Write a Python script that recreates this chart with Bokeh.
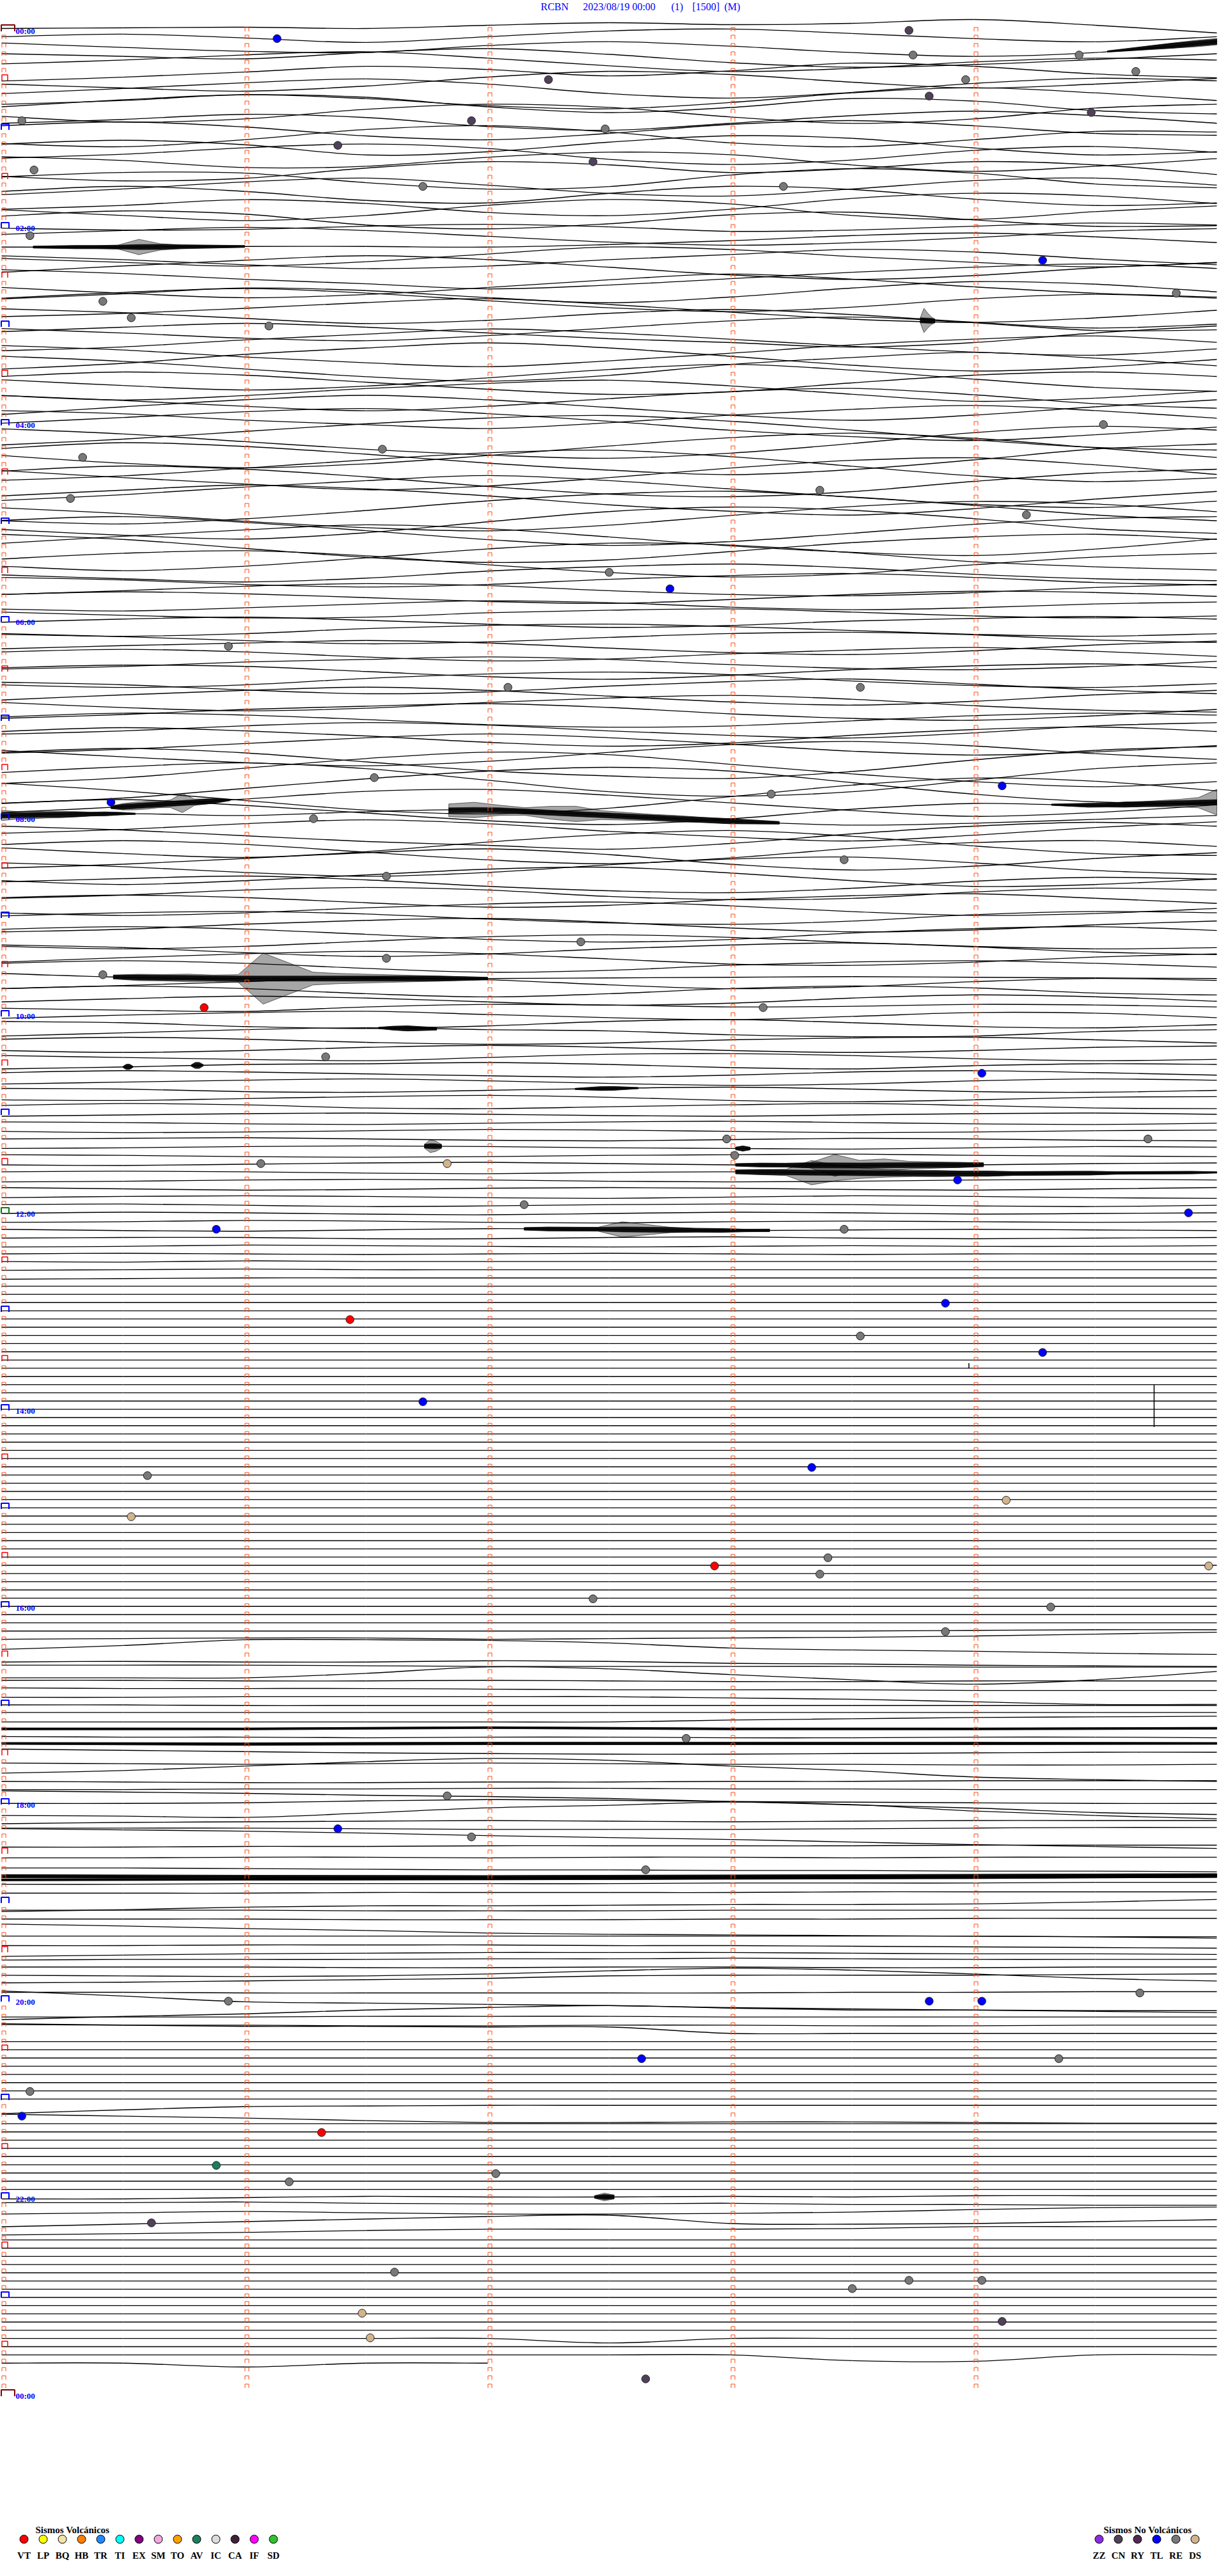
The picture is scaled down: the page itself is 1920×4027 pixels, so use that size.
from bokeh.plotting import figure
from bokeh.models import Range1d
from bokeh.core.properties import value
from bokeh.embed import file_html
from bokeh.resources import INLINE
import numpy as np

# ---------------- header / labels ----------------
station = "RCBN"
start_label = "2023/08/19 00:00"
run_label = "(1)"
scale_label = "[1500]"
comp_label = "(M)"
hour_labels = ["00:00", "02:00", "04:00", "06:00", "08:00", "10:00", "12:00",
               "14:00", "16:00", "18:00", "20:00", "22:00", "00:00"]
minutes_per_line = 5
n_lines = 288
data_end_min = 23 * 60 + 42          # record ends 23:42
minute_ticks = [0, 1, 2, 3, 4]
sample_min = [0, 0.5, 1, 1.5, 2, 2.5, 3, 3.5, 4, 4.5, 5]

# ---------------- trace offsets (counts, + = up) at sample_min, 12 lines per hour ----
F2 = [2, 2, 2, 2, 2, 2, 2, 2, 2, 2, 2]
F0 = [0, 0, 0, 0, 0, 0, 0, 0, 0, 0, 0]
h00 = [[4, 5, 6, 4, 9, 13, 10, 12, 18, 9, -3], [4, 8, 2, -5, 4, 13, 16, 9, 1, -4, 4],
       [7, 0, -6, -8, 3, 9, 2, -8, -14, -8, 9], [3, -1, -5, 5, 11, 2, -11, -18, -14, -6, 3],
       [0, 6, 14, 19, 9, -3, -12, -7, 3, 9, 6], [-14, -8, 0, 9, 4, -6, 2, 14, 9, -3, -9],
       [-6, -12, -17, -9, 5, 14, 9, -3, -12, -6, 3], [-8, 0, 9, 15, 7, -8, -15, -6, 8, 16, 12],
       [-12, -6, 3, -3, -14, -19, -9, 6, 14, 6, -6], [-3, 8, 16, 12, -3, -12, -4, 10, 6, -9, -14],
       [-5, -14, -9, 6, 14, 9, -6, -16, -9, 8, 14], [-3, 3, 11, 6, -8, -14, -3, 9, 16, 9, -3]]
h01 = [[6, 12, 4, -10, -16, -6, 8, 14, 6, -6, -9], [-9, -14, -3, 13, 19, 9, -8, -14, -3, 10, 9],
       [3, 9, 2, -14, -9, 6, 16, 12, -3, -14, -9], [-6, 0, 10, 16, 9, -8, -16, -9, 6, 12, 3],
       [9, 3, -8, -6, 8, 16, 12, -4, -14, -6, 6], [-9, -16, -12, 4, 14, 9, -3, 3, 14, 9, -6],
       [3, 10, 9, -6, -16, -12, 6, 16, 9, -8, -14], [-12, -3, 8, 14, 3, -10, -14, -3, 10, 14, 3],
       [6, 14, 6, -8, -12, 3, 14, 9, -6, -16, -12], [-9, -3, 6, 0, -14, -19, -9, 8, 16, 12, 0],
       [3, -6, -14, -6, 10, 19, 12, -6, -12, 0, 9], [6, 14, 9, -8, -14, -6, 8, 12, 0, -10, -9]]
h02 = [[0, -3, -2, 3, 6, 2, -5, -3, 3, 8, 5], [3, 9, 14, 9, 0, -9, -14, -10, -2, 8, 12],
       [-4, -4, -3, -3, -4, 0, 6, 14, 18, 12, 3], [-9, -15, -21, -14, -2, 9, 5, -6, -15, -22, -15],
       [8, 2, -6, -12, -8, 2, 10, 18, 14, 3, -6], [-5, 5, 14, 21, 15, 3, -9, -16, -10, 2, 10],
       [12, 6, -3, -10, -18, -12, -2, 8, 16, 21, 14], [-3, -12, -19, -14, -3, 9, 18, 10, -2, -12, -18],
       [-8, 0, 9, 5, -6, -14, -5, 9, 19, 15, 3], [6, 15, 21, 14, 2, -9, -15, -8, 5, 12, 6],
       [-10, -5, 3, 12, 18, 9, -3, -14, -19, -12, 0], [15, 9, 0, -8, -3, 8, 14, 6, -6, -15, -9]]
h03 = [[-3, -10, -18, -22, -14, -2, 9, 15, 6, -6, -5], [5, 12, 18, 12, 3, -6, -12, -19, -12, 3, 14],
       [-12, -6, 5, 14, 22, 16, 6, -5, -14, -19, -9], [9, 2, -9, -18, -24, -15, -3, 10, 19, 24, 14],
       [-15, -6, 8, 18, 26, 18, 5, -9, -18, -12, 0], [18, 10, -2, -14, -21, -12, 5, 16, 24, 15, 3],
       [-6, -15, -22, -16, -3, 10, 18, 9, -5, -18, -24], [12, 19, 14, 3, -8, -16, -12, 2, 14, 19, 12],
       [-5, -12, -5, 6, 14, 19, 10, -3, -14, -9, 2], [8, 0, -9, -16, -9, 3, 14, 19, 9, -5, -12],
       [-9, 3, 14, 21, 14, 2, -10, -18, -10, 3, 14], [10, 5, -5, -12, -18, -9, 3, 12, 18, 10, -2]]
h04 = [[3, 12, 21, 26, 18, 6, -8, -18, -24, -15, -3], [-18, -9, 3, 15, 24, 28, 19, 5, -10, -22, -26],
       [20, 12, 0, -12, -21, -26, -18, -3, 14, 24, 18], [-9, -21, -28, -22, -9, 6, 19, 26, 18, 3, -12],
       [15, 24, 18, 6, -8, -19, -26, -18, -3, 14, 22], [-22, -15, -3, 10, 21, 25, 15, 0, -15, -24, -18],
       [6, -5, -15, -24, -18, -5, 10, 22, 26, 15, 0], [18, 26, 21, 9, -6, -18, -22, -14, 2, 15, 21],
       [-15, -6, 6, 16, 24, 16, 3, -10, -21, -26, -16], [5, 14, 22, 16, 5, -9, -19, -25, -15, 0, 12],
       [-21, -26, -18, -5, 10, 21, 25, 16, 3, -12, -21], [12, 3, -9, -19, -24, -15, 0, 14, 22, 18, 6]]
h05 = [[-9, -18, -24, -14, 3, 19, 26, 21, 8, -8, -15], [18, 24, 15, 2, -12, -21, -15, -2, 12, 21, 24],
       [-5, 6, 16, 24, 18, 5, -9, -19, -24, -14, 2], [22, 14, 0, -14, -22, -18, -5, 9, 18, 22, 14],
       [-15, -22, -15, -2, 12, 21, 18, 6, -8, -16, -21], [9, 18, 22, 14, 0, -12, -19, -14, 0, 12, 18],
       [-3, -9, -14, -8, 3, 10, 14, 8, -2, -9, -12], [6, 2, -5, -9, -5, 3, 9, 12, 6, -2, -6],
       [-8, -2, 5, 9, 6, -2, -8, -10, -5, 3, 8], [5, 9, 6, 0, -6, -9, -3, 5, 10, 8, 2],
       [-5, -8, -3, 3, 8, 5, -2, -6, -3, 3, 6], [3, -2, -6, -5, 2, 6, 8, 3, -3, -6, -3]]
h06 = [[0, 5, 8, 3, -3, -8, -5, 2, 6, 9, 5], [-6, -9, -5, 3, 8, 10, 6, 0, -6, -9, -5],
       [8, 3, -3, -8, -5, 2, 8, 10, 6, -2, -6], [-3, 2, 6, 10, 6, -2, -9, -12, -6, 3, 9],
       [5, 9, 5, -3, -9, -6, 2, 8, 12, 6, -2], [-9, -5, 2, 6, 10, 6, -2, -8, -10, -5, 3],
       [6, 10, 8, 0, -8, -12, -6, 3, 9, 12, 6], [-8, -12, -8, 2, 9, 12, 8, -2, -9, -12, -6],
       [9, 5, -3, -9, -6, 3, 10, 14, 6, -3, -9], [-6, 2, 9, 14, 9, 0, -9, -14, -8, 2, 9],
       [3, -5, -10, -6, 3, 10, 14, 8, -2, -9, -12], [-9, -3, 5, 10, 14, 8, -2, -9, -12, -5, 5]]
h07 = [[6, 12, 9, 2, -6, -10, -8, 0, 8, 12, 9], [-8, -3, 5, 10, 6, -3, -10, -14, -6, 5, 10],
       [9, 15, 10, 2, -8, -14, -9, 3, 12, 16, 9], [-12, -6, 3, 12, 18, 12, 2, -9, -15, -10, 0],
       [5, -5, -14, -19, -12, 2, 14, 19, 12, 0, -9], [15, 21, 14, 0, -14, -22, -26, -15, 3, 18, 24],
       [-21, -12, 3, 18, 28, 24, 9, -6, -18, -26, -18], [9, 18, 24, 15, -3, -21, -28, -21, -3, 15, 24],
       [-26, -18, -3, 12, 24, 30, 24, 6, -12, -24, -28], [18, 6, -9, -24, -30, -21, -3, 15, 26, 21, 6],
       [-15, -6, 6, 18, 21, 12, 0, -12, -21, -15, -3], [12, 18, 9, -3, -15, -21, -12, 3, 12, 9, 14]]
h08 = [[6, 9, 6, 12, 15, 6, -3, -9, -6, 0, 6], [-9, -3, 6, 12, 6, -6, -15, -21, -12, 0, 9],
       [15, 9, 0, -9, -15, -21, -12, 3, 15, 21, 15], [-6, -15, -21, -12, 3, 15, 21, 12, -3, -15, -18],
       [12, 18, 12, 0, -12, -18, -9, 6, 15, 18, 9], [-12, -6, 3, 12, 18, 9, -6, -15, -9, 3, 12],
       [9, 3, -6, -12, -6, 6, 15, 18, 9, -3, -9], [-6, -12, -6, 3, 12, 15, 6, -6, -15, -12, -3],
       [5, 10, 14, 8, -2, -9, -12, -5, 6, 12, 9], [-8, -3, 5, 9, 5, -5, -10, -8, 2, 8, 5],
       [6, 10, 6, -2, -9, -6, 3, 9, 12, 5, -3], [-5, -9, -5, 3, 9, 12, 6, -3, -9, -6, 2]]
h09 = [[3, 8, 10, 6, -2, -8, -10, -5, 5, 10, 8], [-9, -5, 3, 9, 12, 6, -3, -9, -6, 2, 8],
       [8, 12, 8, 0, -8, -12, -8, 2, 9, 12, 6], [-6, -10, -6, 2, 9, 12, 8, 0, -6, -10, -8],
       [9, 5, -3, -9, -5, 3, 9, 12, 6, -2, -6], [-5, 2, 8, 12, 8, 0, -8, -10, -5, 3, 8],
       [6, 10, 6, -2, -8, -5, 3, 8, 10, 6, 0], [3, -3, -5, -5, -5, -4, -3, -2, -3, -4, -5],
       [-8, -3, 3, 9, 6, -2, -8, -5, 3, 8, 5], [5, 9, 5, -3, -8, -3, 5, 9, 6, -2, -5],
       [-3, 2, 6, 3, -3, -8, -5, 3, 8, 5, -2], [0, -3, -5, 2, 6, 5, 2, 3, 6, 5, 2]]
h10 = [[-3, 2, 6, 8, 3, -2, -5, 0, 6, 5, -2], [5, 3, -3, -6, -2, 5, 8, 3, -3, -5, 0],
       [-5, 0, 5, 8, 5, 3, -3, -6, -5, 2, 5], [3, 6, 3, -2, -5, -3, 2, 5, 6, 2, -3],
       [-2, -5, -2, 3, 6, 3, -2, -5, -2, 3, 5], [3, 0, -3, -5, 0, 5, 6, 3, -2, -5, -3],
       [-5, -2, 2, 3, 5, 2, -3, -5, 0, 3, 2], [2, 5, 3, 0, -3, -5, -2, 3, 5, 2, -2],
       [-3, 0, 3, 5, 2, -2, -5, -3, 2, 5, 3], [3, 2, -2, -3, 0, 3, 5, 2, -2, -3, 0],
       [-2, -3, 0, 3, 5, 2, -3, -5, -2, 2, 3], [2, 5, 3, -2, -3, 0, 3, 5, 2, -2, -3]]
h11 = [[-2, 0, 2, 3, 1, -1, -2, 0, 2, 3, 1], [2, 1, -1, -2, 0, 2, 3, 1, -1, -2, 0],
       [0, -2, -1, 1, 3, 2, 0, -2, -1, 1, 2], [1, 2, 3, 1, -1, -2, 0, 2, 1, -1, -2],
       [-1, 0, 2, 3, 2, 0, -1, -2, 0, 2, 1], [2, 1, -1, -2, -1, 1, 2, 3, 1, 0, -1],
       [-1, -2, 0, 2, 3, 1, -1, -2, -1, 1, 2], [1, 2, 1, -1, -2, 0, 1, -1, -2, -1, 0],
       [-2, -1, 1, 2, 1, -1, -2, -1, 1, 2, 1], [2, 0, -2, -1, 1, 2, 1, -1, -2, 0, 2],
       [-1, 1, 2, 1, -1, -2, 0, 2, 1, -1, -2], [1, 2, 0, -2, -1, 1, 2, 1, -1, -2, 0]]
h12 = [[0, 2, 1, -1, -2, 0, 2, 1, -1, 0, 1], [-1, 0, 2, 1, -1, -2, 0, 1, 0, -1, 0],
       [1, -1, -2, 0, 2, 1, -1, 0, 1, 0, -1], [0, 1, 1, -1, -1, 1, 2, 0, -1, 0, 1],
       [-1, 0, 2, 1, 0, -1, 0, 1, 0, 0, 1], [1, 2, 1, 0, 1, 2, 1, 0, 1, 1, 1],
       [2, 1, 3, 2, 2, 2, 2, 2, 2, 2, 2], [1, 2, 3, 2, 2, 2, 2, 2, 2, 2, 2],
       [0, 1, 2, 2, 2, 2, 2, 2, 2, 2, 2], F2, F2, F2]
h13 = [F2] * 12
h14 = [F2] * 12
h15 = [F2] * 12
h16 = [F2, F2, F2, [2, 2, 2, 2, 2, 2, 2, 2, 3, 4, 4], [2, 3, 4, 4, 2, 3, 4, 5, 7, 10, 13],
       [-1, 5, 14, 14, 13, 9, 1, -2, -4, -7, -9], [-8, -7, -8, -8, -6, -7, -10, -11, -13, -14, -15],
       [0, 0, 0, -1, -2, -2, -2, -2, -3, -3, -3], [-7, -7, -7, 0, 10, 7, -2, -10, -17, -10, 3],
       [2, 2, 1, 1, 2, 1, 0, 0, 1, 1, 1], [3, 2, 2, 2, 1, 0, 0, 0, -1, -1, -1],
       [1, 1, 2, 2, 2, 2, 0, -2, -6, -10, -10]]
h17 = [[2, 2, 1, 1, 1, 1, 1, 1, 1, 1, 1], [3, 3, 3, 3, 3, 3, 3, 3, 3, 3, 3],
       [1, 1, 1, 1, 1, 1, 4, 6, 8, 9, 10], [3, 4, 3, 4, 5, 4, 3, 4, 3, 4, 4],
       [4, 3, 3, 2, 3, 3, 2, 2, 3, 3, 2], [6, 6, 5, 6, 6, 5, 6, 5, 6, 6, 6],
       [10, 8, 6, 4, 3, 2, 2, 3, 4, 5, 5], [1, 0, -1, 0, 1, 0, -1, -1, -2, -2, -1],
       [-2, 2, 9, 16, 21, 18, 9, 2, -8, -12, -15], [-2, -3, -4, -4, -3, -3, -2, -2, -1, -1, -1],
       [-2, -2, -1, -1, 0, 0, -1, -1, -2, -2, -2], [9, 7, 5, 2, 0, -3, -8, -13, -18, -25, -28]]
h18 = [[2, 2, 3, 6, 8, 7, 5, 4, 3, 2, 2], [-4, -5, -7, 0, 8, 12, 17, 13, 3, -4, -9],
       [-4, -2, -1, 0, 1, 0, -1, 0, 1, 1, 1], [2, 2, 2, 1, 0, 0, 0, 1, 2, 3, 3],
       [14, 12, 10, 7, 3, 0, -3, -7, -11, -14, -17], [-2, -2, -1, -1, 0, 0, 0, 0, 1, 1, 1],
       [-6, -6, -5, -5, -6, -5, -5, -6, -5, -5, -5], [-9, -9, -10, -11, -12, -12, -13, -13, -14, -14, -15],
       [-9, -10, -10, -11, -11, -10, -10, -9, -9, -8, -8], [-2, -2, -1, -1, 0, 0, 1, 1, 2, 3, 4],
       [4, 4, 5, 5, 5, 5, 6, 6, 6, 7, 7], [3, 3, 3, 4, 4, 4, 4, 5, 5, 5, 5]]
h19 = [[-13, -10, -6, -4, -4, -3, -2, -2, -1, 2, 6], [2, 2, 2, 1, 1, 1, 2, 2, 2, 2, 2],
       [1, 1, 1, 0, 0, 0, 1, 1, 2, 2, 2], [6, 3, -1, -4, -8, -10, -11, -12, -13, -14, -16],
       [0, 0, 0, 0, 0, 0, 0, 0, 0, -1, -1], [-2, -2, -1, -1, -1, -2, -2, -3, -4, -5, -6],
       [-6, -4, -2, -1, 0, 0, 0, -1, -2, -2, -3], [1, 2, 2, 2, 3, 3, 4, 3, 2, 2, 2],
       [3, 3, 3, 2, 2, 3, 3, 2, 2, 3, 3], [3, 2, 1, 2, 5, 10, 14, 11, 5, -2, -6],
       [4, 5, 7, 9, 11, 15, 16, 16, 16, 17, 18], [2, 2, 1, 1, 1, 1, 1, 2, 2, 3, 3]]
h20 = [[17, 9, 0, -2, -4, -6, -9, -11, -13, -15, -17], [-15, -10, -6, 0, 4, 7, 3, 0, 0, -1, -1],
       [2, 2, 2, 3, 3, 3, 2, 2, 2, 2, 2], [3, 2, 2, 1, 1, 2, 2, 1, 1, 2, 2],
       [17, 15, 13, 13, 12, 12, 2, 2, 2, 2, 2], F2, F2, F2, F2, F2, F2, F2]
h21 = [F2, [-8, -2, 3, 4, 5, 5, 5, 5, 5, 5, 5], [4, 1, -2, -6, -9, -9, -8, -8, -9, -10, -10],
       F2, F2, F2, F2, F2, F2, F2, F2, F2]
h22 = [[0, 0, 2, 4, 3, 3, 4, 3, 5, 5, 5], [7, 7, 8, 6, 5, 5, 6, 4, 4, 3, 3],
       [2, 4, 6, 4, 2, 2, 3, 5, 9, 12, 13], [-5, -1, 3, 7, 11, 13, 0, -1, 0, 3, 6],
       [-5, -3, -1, 2, 4, 4, 4, 5, 8, 8, 8], F0, F0, F0, F0, F0, F0, F0]
h23 = [F0, F0, F0, F0, F0, [0, 0, 0, 0, 0, -7, 0, 0, 0, 0, 0], F0,
       [0, 0, 0, 0, 0, 0, 0, -9, -10, 0, 0], [0, 0, -6, 0, 0, 0, 0, 0, 0, 0, 0], F0, F0, F0]
hours = [h00, h01, h02, h03, h04, h05, h06, h07, h08, h09, h10, h11,
         h12, h13, h14, h15, h16, h17, h18, h19, h20, h21, h22, h23]

# ---------------- bursts / noisy stretches (line, t0, t1, envelope counts) ----------------
burst_line = [2, 26, 36, 94, 95, 96, 96, 115, 122, 126, 126, 129, 136, 136, 138, 139, 146, 264,
              207, 209, 224, 225]
burst_t0 = [4.55, 0.13, 3.78, 0.45, 4.32, 0.0, 1.84, 0.46, 1.55, 0.50, 0.78, 2.36, 1.74, 3.02, 3.02, 3.02,
            2.15, 2.44, 0.0, 0.0, 0.0, 0.0]
burst_t1 = [5.0, 1.0, 3.84, 0.94, 5.0, 0.55, 3.2, 2.0, 1.79, 0.54, 0.83, 2.62, 1.81, 3.08, 4.04, 5.0,
            3.16, 2.52, 5.0, 5.0, 5.0, 5.0]
burst_env = [
    [1, 2, 3, 4, 5, 5],
    [1.5, 2, 2.5, 2.5, 3, 12, 5, 3, 2.5, 2, 1.5],
    [4, 19, 12, 6, 3],
    [2, 5, 6, 6, 5, 6, 15, 5, 4, 3, 1],
    [1, 2, 3, 3, 4, 4, 5, 6, 8, 20],
    [8, 6, 6, 5, 5, 4, 3, 3, 2, 1],
    [10, 12, 8, 6, 10, 12, 7, 6, 5, 5, 4, 4, 3, 2],
    [3, 5, 5, 6, 5, 6, 40, 25, 10, 8, 7, 6, 5, 4, 3, 2],
    [1, 3, 4, 3, 2],
    [1, 4, 4, 1],
    [1, 5, 5, 1],
    [1, 2, 3, 3, 2, 1],
    [3, 10, 8, 3],
    [2, 4, 2],
    [2, 3, 3, 4, 17, 8, 10, 6, 5, 4, 3],
    [3, 4, 5, 19, 12, 8, 6, 5, 5, 4, 4, 3, 3, 3, 3, 2, 2, 2, 2, 1],
    [2, 3, 3, 3, 12, 8, 4, 3, 3, 2, 2],
    [2, 6, 3],
    [1.5, 1.5, 1.5, 1.5, 1.5, 1.5],
    [1.5, 2, 2, 2, 2, 1.5],
    [2.5, 2.5, 3, 3, 3, 3],
    [1.5, 1.5, 2, 2, 2, 2],
]
# glitches: vertical spikes (line, minute, from, to counts)
glitch_line = [170, 163]
glitch_min = [4.742, 3.98]
glitch_lo = [0, 2]
glitch_hi = [66, 10]

# ---------------- events ----------------
ev_time = ["00:06:08", "00:03:44", "00:18:45", "00:19:26", "00:29:40", "00:32:15", "00:33:58", "00:43:49",
           "00:54:29", "00:55:05", "00:56:56", "01:02:29", "01:11:23", "01:22:26", "01:25:08", "01:36:44",
           "01:38:13", "02:05:07", "02:24:17", "02:44:50", "02:45:25", "02:55:32", "03:01:06", "04:04:32",
           "04:16:34", "04:20:20", "04:43:22", "04:45:17", "04:59:13", "05:32:30", "05:42:45", "06:15:56",
           "06:42:05", "06:43:32", "07:36:32", "07:48:10", "07:44:07", "07:50:27", "08:01:17", "08:28:28",
           "08:36:35", "09:17:23", "09:26:35", "09:35:25", "09:55:50", "09:58:08", "10:26:20", "10:39:02",
           "11:17:59", "11:19:43", "11:28:01", "11:31:04", "11:31:50", "11:43:56", "11:57:09", "12:04:53",
           "12:10:53", "12:13:28", "12:58:53", "13:06:26", "13:18:32", "13:29:17", "13:56:44", "14:40:36",
           "14:38:20", "14:59:08", "15:05:32", "15:37:56", "15:33:24", "15:43:22", "15:39:58", "15:57:26",
           "16:04:19", "16:18:53", "17:22:49", "17:56:50", "18:16:23", "18:21:56", "18:42:39", "20:00:56",
           "20:03:49", "20:04:02", "19:59:41", "20:37:38", "20:39:21", "20:55:07", "21:10:05", "21:21:19",
           "21:40:53", "21:51:11", "21:47:02", "22:15:37", "22:46:37", "22:53:44", "22:54:02", "22:58:30",
           "23:11:29", "23:19:07", "23:26:31", "23:52:39"]
ev_type = ["TL", "CN", "RE", "RE", "RE", "CN", "RE", "CN", "CN", "RE", "CN", "RE", "CN", "CN", "RE", "RE",
           "RE", "RE", "TL", "RE", "RE", "RE", "RE", "RE", "RE", "RE", "RE", "RE", "RE", "RE", "TL", "RE",
           "RE", "RE", "RE", "RE", "TL", "TL", "RE", "RE", "RE", "RE", "RE", "RE", "VT", "RE", "RE", "TL",
           "RE", "RE", "RE", "RE", "DS", "TL", "RE", "TL", "TL", "RE", "TL", "VT", "RE", "TL", "TL", "RE",
           "TL", "DS", "DS", "VT", "RE", "RE", "DS", "RE", "RE", "RE", "RE", "RE", "TL", "RE", "RE", "RE",
           "TL", "TL", "RE", "TL", "RE", "RE", "TL", "VT", "AV", "RE", "RE", "CN", "RE", "RE", "RE", "RE",
           "DS", "CN", "DS", "CN"]

volc_codes = ["VT", "LP", "BQ", "HB", "TR", "TI", "EX", "SM", "TO", "AV", "IC", "CA", "IF", "SD"]
volc_colors = ["#ff0000", "#ffff00", "#f2e4a6", "#ff8000", "#1e88ff", "#00ffff", "#800080", "#f0a8e0",
               "#ffa000", "#1a7f5e", "#dcdcdc", "#40203c", "#ff00ff", "#30c030"]
novolc_codes = ["ZZ", "CN", "RY", "TL", "RE", "DS"]
novolc_colors = ["#8a2be2", "#504058", "#502a50", "#0000ff", "#787878", "#d2b48c"]
type_color = dict(zip(volc_codes + novolc_codes, volc_colors + novolc_colors))

# ---------------- geometry ----------------
PX_MIN = 380.0
PX_LINE = 12.837
X0, Y0 = 10.0, 56.0
W, H = 1904, 4011


def dx(px):
    return px / PX_MIN


def dy(px):
    return px / PX_LINE


def xp(px):
    return (px - X0) / PX_MIN


def yp(py):
    return (py - Y0) / PX_LINE


p = figure(width=W, height=H, x_range=Range1d(xp(8), xp(8 + W)), y_range=Range1d(yp(8 + H), yp(8)),
           output_backend="svg", toolbar_location=None, min_border=0,
           x_axis_type=None, y_axis_type=None)
p.grid.visible = False
p.outline_line_color = None
p.background_fill_color = "white"

# ---------------- traces (drawn as smooth curves through the samples) ----------------
seg = {k: [] for k in ("x0", "y0", "x1", "y1", "cx0", "cy0", "cx1", "cy1")}
trace_off = {}
for h in range(24):
    for j in range(12):
        L = h * 12 + j
        t0 = L * minutes_per_line
        if t0 >= data_end_min:
            continue
        off = np.array(hours[h][j], dtype=float)
        xs = np.array(sample_min, dtype=float)
        tend = min(minutes_per_line, data_end_min - t0)
        keep = xs <= tend + 1e-9
        xs, off = xs[keep], off[keep]
        trace_off[L] = (xs, off)
        ys = L - dy(off)
        n = len(xs)
        for i in range(n - 1):
            a = max(i - 1, 0)
            b = min(i + 2, n - 1)
            seg["x0"].append(xs[i]); seg["y0"].append(ys[i])
            seg["x1"].append(xs[i + 1]); seg["y1"].append(ys[i + 1])
            seg["cx0"].append(xs[i] + (xs[i + 1] - xs[a]) / 6.0)
            seg["cy0"].append(ys[i] + (ys[i + 1] - ys[a]) / 6.0)
            seg["cx1"].append(xs[i + 1] - (xs[b] - xs[i]) / 6.0)
            seg["cy1"].append(ys[i + 1] - (ys[b] - ys[i]) / 6.0)
p.bezier(line_color="black", line_width=1.35, **seg)

# bursts: envelope bands (light outer envelope + dark core)
for L, a, b, env in zip(burst_line, burst_t0, burst_t1, burst_env):
    env = np.array(env, dtype=float)
    bx = np.linspace(a, b, len(env))
    xs_t, off_t = trace_off[L]
    c = L - dy(np.interp(bx, xs_t, off_t))
    core = np.minimum(env, 4.0)
    for e, alpha in ((env, 0.35), (core, 0.9)):
        px_ = list(bx) + list(bx[::-1])
        py_ = list(c - dy(e)) + list((c + dy(e))[::-1])
        p.patch(px_, py_, fill_color="black", fill_alpha=alpha, line_color="black", line_width=0.7,
                line_alpha=0.8)

for L, m, lo, hi in zip(glitch_line, glitch_min, glitch_lo, glitch_hi):
    p.segment(x0=[m], y0=[L - dy(lo)], x1=[m], y1=[L - dy(hi)], line_color="black", line_width=1.5)


# ---------------- line-start brackets and minute ticks (snapped to pixel centres) ----------------
def snap_x(m):
    return xp(np.floor(X0 + m * PX_MIN) + 0.5)


def snap_y(L, up):
    return yp(np.floor(Y0 + L * PX_LINE) + 0.5 - up)


def bracket(m, L, wpx, hpx):
    xa = snap_x(m)
    xb = xa + dx(wpx)
    yb = snap_y(L, 0)
    yt = snap_y(L, hpx)
    return [xa, xa, xb, xb], [yb, yt, yt, yb]


groups = {"tick": ([], []), "half": ([], []), "hour": ([], []), "noon": ([], []), "day": ([], [])}
for L in range(n_lines + 1):
    if L < n_lines:
        for m in minute_ticks[1:]:
            bx, by = bracket(m, L, 6, 6)
            groups["tick"][0].append(bx); groups["tick"][1].append(by)
    if L % 288 == 0:
        bx, by = bracket(dx(-1), L, 21, 10); g = "day"
    elif L == 144:
        bx, by = bracket(dx(-1), L, 12, 9); g = "noon"
    elif L % 12 == 0:
        bx, by = bracket(dx(-1), L, 12, 9); g = "hour"
    elif L % 6 == 0:
        bx, by = bracket(0, L, 9, 9); g = "half"
    else:
        bx, by = bracket(0, L, 6, 6); g = "tick"
    groups[g][0].append(bx); groups[g][1].append(by)

style = {"tick": ("#ff4a10", 1), "half": ("#ff0000", 1.5), "hour": ("#0000ff", 2),
         "noon": ("#008000", 2), "day": ("#800000", 2)}
for g, (bxs, bys) in groups.items():
    col, lw = style[g]
    p.multi_line(bxs, bys, line_color=col, line_width=lw)

# hour labels
hl_y = [i * 24 for i in range(len(hour_labels))]
p.text(x=[xp(32)] * len(hour_labels), y=hl_y, text=hour_labels, text_font=value("Liberation Serif"),
       text_font_size=value("13px"), text_font_style="bold", text_color="#0000ff",
       text_baseline="alphabetic", text_align="left")

# header (pieces placed like the original)
p.text(x=[xp(853), xp(919), xp(1057), xp(1090), xp(1140)], y=[yp(18)] * 5,
       text=[station, start_label, run_label, scale_label, comp_label],
       text_font=value("Liberation Serif"), text_font_size=value("16px"), text_color="#0000ff",
       text_baseline="alphabetic", text_align="left")

# ---------------- events ----------------
ev_x, ev_y, ev_c = [], [], []
for t, ty in zip(ev_time, ev_type):
    hh, mm, ss = [int(v) for v in t.split(":")]
    tm = hh * 60 + mm + ss / 60.0
    L = int(tm // minutes_per_line)
    ev_x.append(tm - L * minutes_per_line)
    ev_y.append(L - dy(1))
    ev_c.append(type_color[ty])
p.scatter(ev_x, ev_y, size=12.5, fill_color=ev_c, line_color="#202020", line_width=1)

# ---------------- legends ----------------
lx = [xp(45 + 30 * i) for i in range(len(volc_codes))]
p.text(x=[xp(63)], y=[yp(3962)], text=["Sismos Volcánicos"], text_font=value("Liberation Serif"),
       text_font_size=value("15px"), text_font_style="bold", text_color="black", text_baseline="alphabetic")
p.scatter(lx, [yp(3977)] * len(lx), size=13, fill_color=volc_colors, line_color="black", line_width=1)
p.text(x=lx, y=[yp(4002)] * len(lx), text=volc_codes, text_font=value("Liberation Serif"),
       text_font_size=value("15px"), text_font_style="bold", text_color="black",
       text_baseline="alphabetic", text_align="center")

nx = [xp(1726 + 30 * i) for i in range(len(novolc_codes))]
p.text(x=[xp(1733)], y=[yp(3962)], text=["Sismos No Volcánicos"], text_font=value("Liberation Serif"),
       text_font_size=value("15px"), text_font_style="bold", text_color="black", text_baseline="alphabetic")
p.scatter(nx, [yp(3977)] * len(nx), size=13, fill_color=novolc_colors, line_color="black", line_width=1)
p.text(x=nx, y=[yp(4002)] * len(nx), text=novolc_codes, text_font=value("Liberation Serif"),
       text_font_size=value("15px"), text_font_style="bold", text_color="black",
       text_baseline="alphabetic", text_align="center")

open("out.html", "w").write(file_html(p, INLINE))
